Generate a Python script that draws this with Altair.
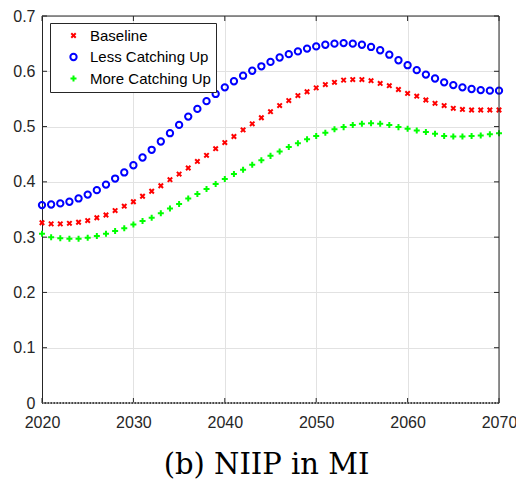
import altair as alt
import pandas as pd

years = list(range(2020, 2071))

baseline = [0.326, 0.324, 0.324, 0.325, 0.327, 0.330, 0.335, 0.340, 0.348, 0.356,
            0.364, 0.374, 0.383, 0.393, 0.404, 0.414, 0.425, 0.437, 0.448, 0.460,
            0.471, 0.482, 0.494, 0.505, 0.516, 0.527, 0.538, 0.547, 0.556, 0.563,
            0.570, 0.576, 0.580, 0.584, 0.585, 0.585, 0.583, 0.578, 0.574, 0.567,
            0.560, 0.555, 0.548, 0.542, 0.538, 0.533, 0.531, 0.530, 0.530, 0.530,
            0.530]

less_catching = [0.358, 0.359, 0.361, 0.364, 0.370, 0.377, 0.385, 0.395, 0.406, 0.417,
                 0.430, 0.444, 0.458, 0.473, 0.488, 0.503, 0.518, 0.532, 0.546, 0.559,
                 0.571, 0.582, 0.592, 0.601, 0.609, 0.617, 0.625, 0.631, 0.636, 0.641,
                 0.645, 0.648, 0.650, 0.651, 0.650, 0.648, 0.644, 0.638, 0.630, 0.620,
                 0.611, 0.602, 0.594, 0.587, 0.580, 0.575, 0.571, 0.568, 0.566, 0.565,
                 0.565]

more_catching = [0.306, 0.300, 0.298, 0.297, 0.297, 0.299, 0.302, 0.306, 0.311, 0.316,
                 0.323, 0.329, 0.335, 0.343, 0.352, 0.360, 0.370, 0.378, 0.387, 0.396,
                 0.405, 0.414, 0.422, 0.431, 0.439, 0.447, 0.455, 0.463, 0.470, 0.477,
                 0.483, 0.489, 0.495, 0.499, 0.503, 0.505, 0.506, 0.505, 0.503, 0.499,
                 0.496, 0.493, 0.490, 0.487, 0.483, 0.482, 0.482, 0.483, 0.484, 0.486,
                 0.488]

series_names = ["Baseline", "Less Catching Up", "More Catching Up"]
series_colors = ["#ff0000", "#0000ff", "#00ff00"]
series_shapes = ["M-0.7,-0.7L0.7,0.7M-0.7,0.7L0.7,-0.7",
                 "circle",
                 "M-0.95,0L0.95,0M0,-0.95L0,0.95"]

x_ticks = [2020, 2030, 2040, 2050, 2060, 2070]
y_ticks = [0, 0.1, 0.2, 0.3, 0.4, 0.5, 0.6, 0.7]
zero_line = [0]
title_text = "(b) NIIP in MI"

W, H = 457, 387
AX = "#262626"
GRID = "#e2e2e2"

rows = []
for name, vals in zip(series_names, [baseline, less_catching, more_catching]):
    for yr, v in zip(years, vals):
        rows.append({"year": yr, "value": v, "series": name})
df = pd.DataFrame(rows)

xscale = alt.Scale(domain=[2020, 2070], nice=False, zero=False)
yscale = alt.Scale(domain=[0, 0.7], nice=False)

points = alt.Chart(df).mark_point(filled=False, strokeWidth=2, size=40, opacity=1).encode(
    x=alt.X("year:Q", scale=xscale,
            axis=alt.Axis(values=x_ticks, format="d", grid=True, gridColor=GRID,
                          domain=False, ticks=False, labelFlush=False,
                          labelOverlap=False,
                          labelFont="Liberation Sans", labelFontSize=16, labelColor=AX,
                          labelPadding=11,
                          title=title_text, titleFont="DejaVu Serif", titleFontSize=29,
                          titleFontWeight="normal", titleColor="#000000",
                          titleX=224, titleY=70, titleAlign="center",
                          titleBaseline="alphabetic")),
    y=alt.Y("value:Q", scale=yscale,
            axis=alt.Axis(values=y_ticks,
                          labelExpr="datum.value == 0 ? '0' : format(datum.value, '.1f')",
                          grid=True, gridColor=GRID, domain=True, domainColor=AX,
                          ticks=False, labelFlush=False, labelOverlap=False,
                          labelFont="Liberation Sans", labelFontSize=16,
                          labelColor=AX, labelPadding=7, title="")),
    color=alt.Color("series:N", title=None,
                    scale=alt.Scale(domain=series_names, range=series_colors),
                    legend=alt.Legend(orient="none", legendX=8, legendY=7,
                                      strokeColor=AX, fillColor="white", padding=5,
                                      symbolOffset=11, labelOffset=9, rowPadding=5.5,
                                      labelFont="Liberation Sans", labelFontSize=15,
                                      labelColor="#000000", symbolSize=40,
                                      symbolStrokeWidth=2, labelLimit=300)),
    shape=alt.Shape("series:N", title=None,
                    scale=alt.Scale(domain=series_names, range=series_shapes)),
)

tx = pd.DataFrame({"year": x_ticks})
ty = pd.DataFrame({"value": y_ticks})
tz = pd.DataFrame({"value": zero_line})

bottom_ticks = alt.Chart(tx).mark_rule(color=AX).encode(
    x=alt.X("year:Q", scale=xscale), y=alt.value(H), y2=alt.value(H - 5))
top_ticks = alt.Chart(tx).mark_rule(color=AX).encode(
    x=alt.X("year:Q", scale=xscale), y=alt.value(0), y2=alt.value(5))
left_ticks = alt.Chart(ty).mark_rule(color=AX).encode(
    y=alt.Y("value:Q", scale=yscale), x=alt.value(0), x2=alt.value(5))
right_ticks = alt.Chart(ty).mark_rule(color=AX).encode(
    y=alt.Y("value:Q", scale=yscale), x=alt.value(W), x2=alt.value(W - 5))

top_edge = alt.Chart(tz).mark_rule(color=AX, strokeWidth=1).encode(
    x=alt.value(0), x2=alt.value(W), y=alt.value(0))
right_edge = alt.Chart(tz).mark_rule(color=AX, strokeWidth=1).encode(
    x=alt.value(W), y=alt.value(0), y2=alt.value(H))

zero_base = alt.Chart(tz).mark_rule(color="#a0a0a0", strokeWidth=1.5).encode(
    y=alt.Y("value:Q", scale=yscale))
zero_dots = alt.Chart(tz).mark_rule(color="#222222", strokeWidth=1.5,
                                    strokeDash=[1.5, 1.5]).encode(
    y=alt.Y("value:Q", scale=yscale))

chart = alt.layer(
    points, bottom_ticks, top_ticks, left_ticks, right_ticks,
    top_edge, right_edge, zero_base, zero_dots
).properties(
    width=W, height=H,
    autosize=alt.AutoSizeParams(type="none"),
    padding={"left": 34, "top": 8, "right": 17, "bottom": 82},
    background="white",
).configure_view(strokeWidth=0)

chart.save("out.html", embed_options={"renderer": "svg", "actions": False})
